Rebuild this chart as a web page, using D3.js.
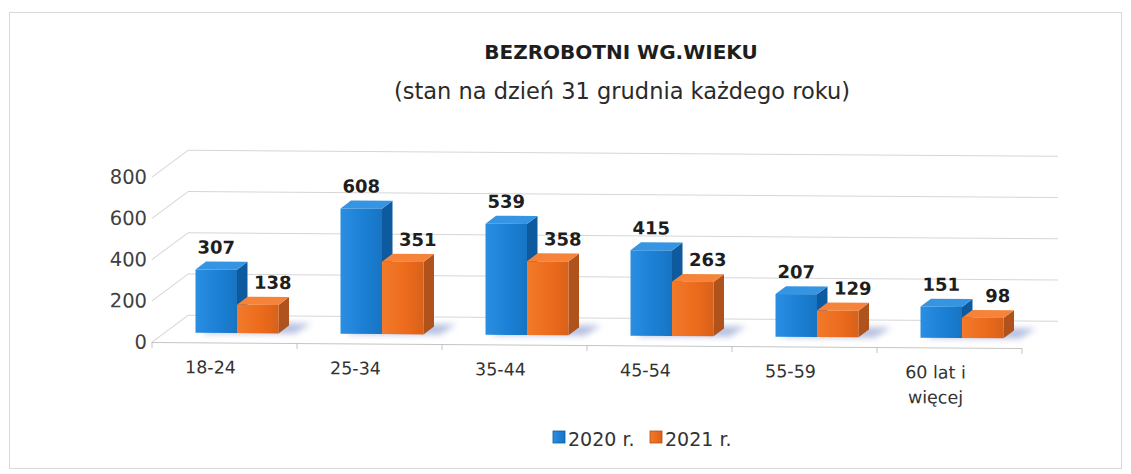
<!DOCTYPE html>
<html><head><meta charset="utf-8">
<script src="https://cdn.jsdelivr.net/npm/d3@7"></script>
<style>body{margin:0;background:#fff}svg{display:block}</style>
</head><body><svg id="c" width="1131" height="474"></svg>
<script>
const title = "BEZROBOTNI WG.WIEKU";
const subtitle = "(stan na dzień 31 grudnia każdego roku)";
const categories = ["18-24", "25-34", "35-44", "45-54", "55-59", "60 lat i\nwięcej"];
const seriesNames = ["2020 r.", "2021 r."];
const values2020 = [307, 608, 539, 415, 207, 151];
const values2021 = [138, 351, 358, 263, 129, 98];
const yTicks = [0, 200, 400, 600, 800];

const palette = {
  "2020 r.": {front: "#1a7fd4", frontL: "#2a8fe2", side: "#0e5a9e", top: "#3595e3"},
  "2021 r.": {front: "#ec6a1c", frontL: "#f27a2a", side: "#b0521c", top: "#f5843a"}
};
const font = "'DejaVu Sans', sans-serif";

const svg = d3.select("#c");
const defs = svg.append("defs");
Object.entries(palette).forEach(([k, c], i) => {
  const lg = defs.append("linearGradient").attr("id", "gf" + i).attr("x1", 0).attr("x2", 1).attr("y1", 0).attr("y2", 0);
  lg.append("stop").attr("offset", "0%").attr("stop-color", c.frontL);
  lg.append("stop").attr("offset", "60%").attr("stop-color", c.front);
  lg.append("stop").attr("offset", "100%").attr("stop-color", d3.color(c.front).darker(0.25));
});
defs.append("filter").attr("id", "blur").attr("x", "-50%").attr("y", "-50%").attr("width", "200%").attr("height", "200%")
  .append("feGaussianBlur").attr("stdDeviation", 3);

// frame
svg.append("rect").attr("x", 9.5).attr("y", 12.5).attr("width", 1112).attr("height", 456)
  .attr("fill", "none").attr("stroke", "#d9d9d9");

// titles
svg.append("text").attr("x", 621).attr("y", 59).attr("text-anchor", "middle")
  .attr("font-family", font).attr("font-weight", "bold").attr("font-size", 20).attr("fill", "#1e1e1e").text(title);
svg.append("text").attr("x", 622).attr("y", 99).attr("text-anchor", "middle")
  .attr("font-family", font).attr("font-size", 22.5).attr("fill", "#2a2a2a").text(subtitle);

// scales
const x = d3.scaleBand().domain(categories).range([152, 1022]);
const groupW = 83;
const xs = d3.scaleBand().domain(seriesNames).range([0, groupW]);
const y = d3.scaleLinear().domain([0, 800]).range([341, 176]);
const wall = {dx: 36, dy: -27};
const barOff = {dx: 12.5, dy: -9.5};
const barDepth = {dx: 10.5, dy: -8};

const plot = svg.append("g").attr("transform", "skewY(0.39)");

// y-axis labels
plot.append("g").selectAll("text").data(yTicks).join("text")
  .attr("x", 147).attr("y", d => y(d)).attr("dy", "0.35em").attr("text-anchor", "end")
  .attr("font-family", font).attr("font-size", 19.5).attr("fill", "#404040").text(d => d);

// walls: side diagonals + back gridlines
const grid = plot.append("g").attr("stroke", "#d6d6d6").attr("stroke-width", 1).attr("fill", "none");
const xL = x.range()[0], xR = x.range()[1];
grid.selectAll("line.s").data(yTicks).join("line").attr("class", "s")
  .attr("x1", xL).attr("y1", d => y(d)).attr("x2", xL + wall.dx).attr("y2", d => y(d) + wall.dy);
grid.selectAll("line.b").data(yTicks).join("line").attr("class", "b")
  .attr("x1", xL + wall.dx).attr("y1", d => y(d) + wall.dy).attr("x2", xR + wall.dx).attr("y2", d => y(d) + wall.dy);

// floor front edge + ticks
const axis = plot.append("g").attr("stroke", "#c4c4c4");
axis.append("line").attr("x1", xL).attr("x2", xR).attr("y1", y(0) + 0.5).attr("y2", y(0) + 0.5);
const bounds = categories.map(c => x(c)).concat([xR]);
axis.selectAll("line.t").data(bounds).join("line").attr("class", "t")
  .attr("x1", d => d).attr("x2", d => d).attr("y1", y(0)).attr("y2", y(0) + 6);

// category labels
const catG = plot.append("g").attr("font-family", font).attr("font-size", 17.5).attr("fill", "#333")
  .attr("text-anchor", "middle");
categories.forEach(c => {
  const t = catG.append("text").attr("x", x(c) + x.bandwidth() / 2 - 14).attr("y", 372);
  c.split("\n").forEach((ln, i) => t.append("tspan").attr("x", x(c) + x.bandwidth() / 2 - 14).attr("dy", i ? 25 : 0).text(ln));
});

// data rows
const rows = categories.map((c, i) => ({cat: c, vals: [
  {s: seriesNames[0], v: values2020[i], si: 0},
  {s: seriesNames[1], v: values2021[i], si: 1}
]}));

// floor shadows
const shadowG = plot.append("g").attr("filter", "url(#blur)").attr("opacity", 0.5);
rows.forEach(r => {
  const x0 = x(r.cat) + (x.bandwidth() - groupW) / 2 + barOff.dx + 6;
  const y0 = y(0) + barOff.dy;
  const x1 = x0 + groupW + 10;
  shadowG.append("path").attr("fill", "#6a7fc0")
    .attr("d", `M${x0},${y0} L${x1},${y0} L${x1 + barDepth.dx + 6},${y0 + barDepth.dy - 2} L${x0 + barDepth.dx},${y0 + barDepth.dy - 2}Z`);
});

// bars
const barsG = plot.append("g");
rows.forEach(r => {
  r.vals.forEach(d => {
    const c = palette[d.s];
    const fx = x(r.cat) + (x.bandwidth() - groupW) / 2 + xs(d.s) + barOff.dx;
    const w = xs.bandwidth();
    const yb = y(0) + barOff.dy;
    const yt = y(d.v) + barOff.dy;
    const g = barsG.append("g").attr("stroke-linejoin", "round");
    g.append("path").attr("fill", c.side)
      .attr("d", `M${fx + w},${yb} L${fx + w + barDepth.dx},${yb + barDepth.dy} L${fx + w + barDepth.dx},${yt + barDepth.dy} L${fx + w},${yt}Z`);
    g.append("path").attr("fill", c.top)
      .attr("d", `M${fx},${yt} L${fx + barDepth.dx},${yt + barDepth.dy} L${fx + w + barDepth.dx},${yt + barDepth.dy} L${fx + w},${yt}Z`);
    g.append("rect").attr("x", fx).attr("y", yt).attr("width", w).attr("height", yb - yt)
      .attr("fill", `url(#gf${d.si})`);
  });
});

// value labels
const lblG = plot.append("g").attr("font-family", font).attr("font-weight", "bold").attr("font-size", 18)
  .attr("fill", "#1e1e1e").attr("text-anchor", "middle");
rows.forEach(r => {
  r.vals.forEach(d => {
    const fx = x(r.cat) + (x.bandwidth() - groupW) / 2 + xs(d.s) + barOff.dx;
    const cx = fx + xs.bandwidth() / 2 + (d.si ? 15 : 0);
    lblG.append("text").attr("x", cx).attr("y", y(d.v) + barOff.dy - 16).text(d.v);
  });
});

// legend
const leg = svg.append("g").attr("font-family", font).attr("font-size", 19).attr("fill", "#333");
const legX = [553, 650];
seriesNames.forEach((s, i) => {
  leg.append("rect").attr("x", legX[i]).attr("y", 431).attr("width", 12).attr("height", 12)
    .attr("fill", `url(#gf${i})`).attr("stroke", palette[s].side).attr("stroke-width", 0.8);
  leg.append("text").attr("x", legX[i] + 15).attr("y", 446).text(s);
});
</script></body></html>
